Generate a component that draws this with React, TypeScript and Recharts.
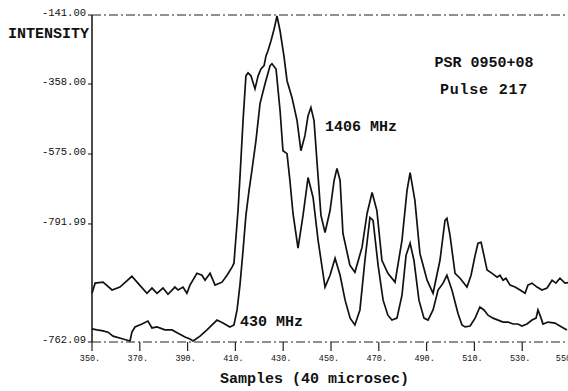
import React from 'react';
import { LineChart, Line, XAxis, YAxis } from 'recharts';

// 1406 MHz trace (sample index, relative intensity)
const samples1406 = [350.0, 351.3, 354.6, 358.4, 361.7, 366.7, 369.2, 373.0, 375.1, 377.2, 379.7, 381.8, 384.7, 386.0, 388.1, 389.7, 391.0, 393.9, 396.0, 397.3, 399.4, 401.5, 404.4, 406.5, 408.6, 409.4, 409.8, 411.1, 411.9, 413.2, 414.4, 415.3, 416.5, 418.2, 419.5, 420.7, 422.0, 422.8, 423.6, 424.9, 426.2, 427.4, 428.7, 430.3, 431.6, 433.7, 435.8, 437.4, 439.1, 440.4, 441.6, 442.9, 444.1, 445.8, 447.5, 449.6, 451.3, 452.5, 453.8, 455.0, 457.9, 460.0, 463.0, 465.1, 467.2, 469.2, 471.3, 473.8, 476.8, 479.7, 481.8, 483.1, 485.1, 487.2, 490.2, 492.7, 495.6, 497.7, 498.5, 499.8, 501.9, 504.0, 506.9, 508.6, 510.3, 511.5, 512.8, 514.0, 515.3, 517.4, 519.5, 520.7, 522.0, 523.2, 524.9, 527.0, 529.1, 531.2, 532.4, 534.1, 536.2, 538.3, 540.4, 542.5, 544.1, 545.8, 547.9, 550.0];
const intensity1406 = [14.9, 18.0, 18.3, 15.9, 16.8, 20.1, 18.0, 14.9, 16.5, 14.9, 16.5, 14.6, 16.8, 15.9, 16.8, 14.9, 17.4, 21.0, 20.4, 18.9, 21.0, 17.4, 18.3, 20.4, 22.9, 24.1, 28.0, 40.2, 50.3, 67.7, 81.4, 82.3, 81.4, 77.4, 81.4, 83.5, 84.5, 87.5, 89.0, 92.1, 95.7, 99.7, 95.1, 87.5, 79.9, 74.7, 67.7, 58.5, 63.1, 69.2, 71.7, 67.7, 55.5, 38.7, 33.5, 40.2, 49.4, 53.1, 49.4, 33.2, 23.5, 21.3, 29.0, 39.3, 45.7, 40.2, 25.0, 21.0, 18.3, 31.1, 46.3, 51.8, 43.3, 27.1, 18.9, 14.9, 25.0, 37.2, 37.8, 32.6, 21.0, 19.5, 16.8, 20.4, 26.5, 30.2, 30.5, 26.5, 22.0, 21.0, 19.8, 20.4, 18.9, 19.5, 17.4, 16.8, 15.9, 14.9, 17.4, 18.0, 16.8, 15.9, 16.5, 18.9, 18.0, 19.5, 18.0, 18.3];

// 430 MHz trace (sample index, relative intensity)
const samples430 = [350.0, 352.1, 354.6, 356.7, 358.8, 363.0, 365.9, 366.7, 368.0, 370.9, 373.4, 375.1, 377.2, 380.5, 383.5, 386.0, 388.9, 391.0, 392.3, 395.2, 398.1, 402.3, 404.8, 407.7, 409.4, 410.7, 411.9, 413.2, 414.4, 415.7, 416.9, 418.6, 420.3, 422.4, 424.5, 425.3, 427.0, 428.7, 429.9, 431.6, 432.8, 434.1, 436.2, 438.3, 440.4, 442.5, 444.6, 447.5, 449.6, 451.7, 453.8, 455.9, 458.0, 460.0, 462.1, 464.2, 466.3, 467.6, 469.7, 471.8, 473.8, 475.5, 477.6, 479.7, 481.4, 483.1, 484.7, 486.8, 488.9, 490.6, 492.7, 494.8, 496.9, 498.5, 500.6, 503.1, 504.8, 506.1, 508.2, 510.3, 512.3, 514.0, 515.7, 517.8, 519.9, 522.0, 524.1, 526.2, 528.2, 529.9, 532.0, 534.1, 535.8, 536.6, 537.9, 538.7, 540.8, 543.7, 545.8, 548.7];
const intensity430 = [4.0, 3.7, 3.4, 3.0, 1.8, 0.9, 0.3, 3.0, 4.6, 5.5, 6.4, 4.3, 4.6, 3.7, 3.7, 2.7, 1.5, 0.9, 0.3, 1.8, 3.7, 6.7, 5.8, 4.6, 5.2, 9.8, 17.4, 28.0, 38.7, 46.3, 52.4, 61.6, 72.9, 79.0, 84.5, 85.1, 83.5, 70.7, 58.5, 57.6, 49.4, 39.3, 28.7, 38.7, 50.3, 44.2, 31.1, 16.8, 20.4, 25.6, 20.4, 12.8, 7.3, 5.2, 9.8, 25.0, 38.1, 37.2, 23.5, 12.8, 8.2, 6.7, 7.3, 14.3, 26.5, 30.2, 25.0, 12.8, 7.3, 6.7, 9.8, 15.9, 18.0, 20.4, 15.9, 8.8, 5.2, 4.6, 4.9, 7.3, 10.7, 9.8, 8.2, 7.3, 6.7, 6.1, 6.1, 5.5, 5.5, 4.9, 5.5, 6.7, 7.3, 9.8, 7.3, 5.5, 6.1, 5.8, 4.9, 3.7];

const xTicks = [350, 370, 390, 410, 430, 450, 470, 490, 510, 530, 550];
const xTickLabels = ['350.', '370.', '390.', '410.', '430.', '450.', '470.', '490.', '510.', '530.', '550.'];
const yTickPositions = [0, 36.1, 57.5, 78.9, 100];
const yTickLabels = ['-762.09', '-791.99', '-575.00', '-358.00', '-141.00'];

const data1406 = samples1406.map((s, i) => ({ sample: s, intensity: intensity1406[i] }));
const data430 = samples430.map((s, i) => ({ sample: s, intensity: intensity430[i] }));

const MONO = '"Liberation Mono", "DejaVu Sans Mono", monospace';

const XTick = (props: any) => {
  const { x, y, payload } = props;
  const idx = xTicks.indexOf(payload.value);
  return (
    <text x={x - 2} y={y + 8} textAnchor="middle" fontFamily={MONO} fontSize={8.5} fill="#111">
      {idx >= 0 ? xTickLabels[idx] : ''}
    </text>
  );
};

const YTick = (props: any) => {
  const { x, y, payload } = props;
  const idx = yTickPositions.indexOf(payload.value);
  return (
    <text x={x} y={y + 1} textAnchor="end" fontFamily={MONO} fontSize={10.5} fill="#111">
      {idx >= 0 ? yTickLabels[idx] : ''}
    </text>
  );
};

const label = (left: number, top: number, size: number, text: string, extra: any = {}) => (
  <div
    style={{
      position: 'absolute',
      left,
      top,
      fontFamily: MONO,
      fontWeight: 'bold',
      fontSize: size,
      lineHeight: `${size}px`,
      color: '#111',
      whiteSpace: 'nowrap',
      ...extra,
    }}
  >
    {text}
  </div>
);

export default function App() {
  return (
    <div style={{ position: 'fixed', left: 0, top: 0, width: 568, height: 391, overflow: 'hidden', background: '#fff' }}>
      <LineChart width={580} height={391} margin={{ top: 7, right: 10, bottom: 29, left: 0 }}>
        <XAxis
          xAxisId="top"
          orientation="top"
          type="number"
          dataKey="sample"
          domain={[350, 550]}
          ticks={xTicks}
          height={8}
          tickSize={5}
          tickFormatter={() => ''}
          stroke="#222"
          axisLine={{ stroke: '#222', strokeDasharray: '9 3 2 3' }}
          tickLine={{ stroke: '#222' }}
        />
        <XAxis
          xAxisId="bottom"
          orientation="bottom"
          type="number"
          dataKey="sample"
          domain={[350, 550]}
          ticks={xTicks}
          height={20}
          tickSize={9}
          tick={<XTick />}
          stroke="#222"
          axisLine={{ stroke: '#222', strokeDasharray: '9 3 2 3' }}
          tickLine={{ stroke: '#222', strokeWidth: 1.2 }}
        />
        <YAxis
          type="number"
          domain={[0, 100]}
          ticks={yTickPositions}
          width={92}
          tickSize={4}
          tick={<YTick />}
          axisLine={{ stroke: '#111', strokeWidth: 1.5 }}
          tickLine={{ stroke: '#111' }}
        />
        <Line
          xAxisId="bottom"
          data={data1406}
          dataKey="intensity"
          type="linear"
          stroke="#111"
          strokeWidth={1.7}
          dot={false}
          isAnimationActive={false}
        />
        <Line
          xAxisId="bottom"
          data={data430}
          dataKey="intensity"
          type="linear"
          stroke="#111"
          strokeWidth={1.7}
          dot={false}
          isAnimationActive={false}
        />
      </LineChart>
      {label(8, 27, 15, 'INTENSITY')}
      {label(434, 56, 15, 'PSR 0950+08', { width: 100, textAlign: 'center' })}
      {label(434, 83, 15, 'Pulse 217', { width: 100, textAlign: 'center', letterSpacing: 0.8 })}
      {label(325, 120, 15, '1406 MHz')}
      {label(240, 315, 15, '430 MHz')}
      {label(220, 372, 15, 'Samples (40 microsec)')}
    </div>
  );
}
